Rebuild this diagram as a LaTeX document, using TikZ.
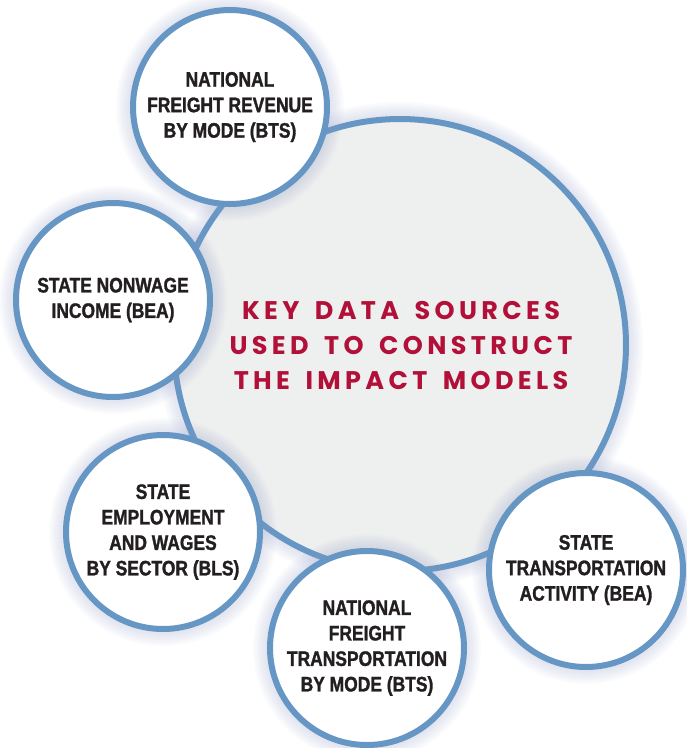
\documentclass[tikz,border=0pt]{standalone}
\usepackage{fontspec}
\setmainfont{Liberation Sans}
\newfontfamily\srcfont[FakeStretch=0.83,FakeBold=1.4,UprightFont={* Bold}]{Liberation Sans}
\newfontfamily\keyfont[LetterSpace=17,WordSpace=1.6]{Poppins}
\definecolor{ringblue}{RGB}{101,150,196}
\definecolor{hubgray}{RGB}{238,240,240}
\definecolor{keyred}{RGB}{178,16,56}
\definecolor{inkblack}{RGB}{35,31,32}
\definecolor{glowblue}{RGB}{150,160,200}

\begin{document}
\begin{tikzpicture}[x=1pt,y=-1pt]

\tikzstyle{ring}  = [circle,draw=ringblue,line width=6pt,inner sep=0pt]
\tikzstyle{hub}   = [ring,fill=hubgray,minimum size=452pt]
\tikzstyle{source} = [ring,fill=white,minimum size=194pt,align=center,
  text=inkblack,font=\srcfont\fontsize{21}{25.5}\selectfont]

\useasboundingbox (0,0) rectangle (687,748);

\def\r{97}
\def\glow#1#2{\foreach \g in {1,...,7}{
  \fill[glowblue,opacity=0.045] (#1) circle (#2+3+\g*2);}}

% big circle
\glow{400,345}{226}
\node (hub) [hub] at (400,345) {};
\node (title) [align=center,text=keyred,
  font=\keyfont\bfseries\fontsize{25.5}{35}\selectfont] at (401,346)
  {KEY DATA SOURCES\\USED TO CONSTRUCT\\THE IMPACT MODELS};

% sources
\glow{230,107}{\r}
\node (revenue) [source] at (230,107) {NATIONAL\\FREIGHT REVENUE\\BY MODE (BTS)};
\glow{113,300}{\r}
\node (nonwage) [source] at (113,300) {STATE NONWAGE\\INCOME (BEA)};
\glow{163,532}{\r}
\node (employ) [source] at (163,532) {STATE\\EMPLOYMENT\\AND WAGES\\BY SECTOR (BLS)};
\glow{586,570}{\r}
\node (activity) [source] at (586,570) {STATE\\TRANSPORTATION\\ACTIVITY (BEA)};
\glow{367,648}{\r}
\node (freight) [source] at (367,648) {NATIONAL\\FREIGHT\\TRANSPORTATION\\BY MODE (BTS)};

\end{tikzpicture}
\end{document}
